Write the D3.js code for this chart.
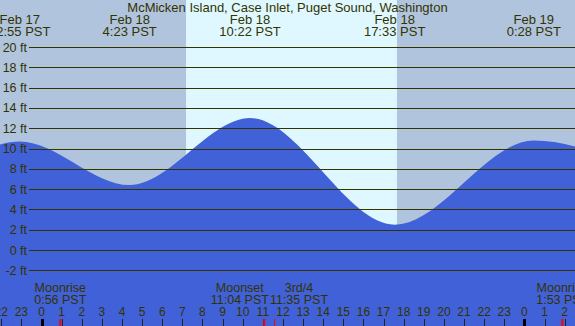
<!DOCTYPE html>
<html>
<head>
<meta charset="utf-8">
<script src="https://cdn.jsdelivr.net/npm/d3@7"></script>
<style>
  body { margin: 0; }
  svg { display: block; }
  text { font-family: "Liberation Sans", Arial, sans-serif; fill: #333300; }
</style>
</head>
<body>
<div id="chart"></div>
<script>
var svgWidth = 575;
var svgHeight = 326;

var title = "McMicken Island, Case Inlet, Puget Sound, Washington";

// tide extremes (first and last are just off the picture)
var tideTimes = ["2025-02-17 16:50", "2025-02-17 22:55", "2025-02-18 04:23", "2025-02-18 10:22",
                 "2025-02-18 17:33", "2025-02-19 00:28", "2025-02-19 06:10"];
var tideHeights = [2.6, 10.7, 6.4, 13.0, 2.5, 10.8, 7.3];

var sunTimes = ["2025-02-18 07:11", "2025-02-18 17:40"];

var moonTimes = ["2025-02-18 00:56", "2025-02-18 11:04", "2025-02-18 11:35", "2025-02-19 01:53"];
var moonNames = ["Moonrise", "Moonset", "3rd/4", "Moonrise"];

var heightTicks = [-2, 0, 2, 4, 6, 8, 10, 12, 14, 16, 18, 20];

var parse = d3.timeParse("%Y-%m-%d %H:%M");
var fmtDay = d3.timeFormat("%b %-d");
var fmtTime = d3.timeFormat("%-H:%M PST");
var fmtHour = d3.timeFormat("%-H");

var tides = tideTimes.map(function(t, i) {
  return { date: parse(t), ft: tideHeights[i] };
});

var svg = d3.select("#chart")
  .append("svg")
  .attr("width", svgWidth)
  .attr("height", svgHeight);

// Scales
// ==============================
var x = d3.scaleTime()
  .domain([parse("2025-02-18 00:00"), parse("2025-02-19 00:00")])
  .range([41.5, 524.4]);

var y = d3.scaleLinear()
  .domain([-2, 20])
  .range([270.3, 47]);

// Night / day background
// ==============================
svg.append("rect")
  .attr("width", svgWidth)
  .attr("height", svgHeight)
  .attr("fill", "#b0c4de");

svg.append("rect")
  .attr("x", x(parse(sunTimes[0])))
  .attr("width", x(parse(sunTimes[1])) - x(parse(sunTimes[0])))
  .attr("height", svgHeight)
  .attr("fill", "#dff8ff");

// Tide fill
// ==============================
var area = d3.area()
  .x(d => x(d.date))
  .y0(svgHeight)
  .y1(d => y(d.ft))
  .curve(d3.curveMonotoneX);

svg.append("path")
  .datum(tides)
  .attr("d", area)
  .attr("fill", "#4161d8");

// Height grid + labels
// ==============================
svg.append("g").selectAll("line")
  .data(heightTicks)
  .enter()
  .append("line")
  .attr("x1", 29)
  .attr("x2", svgWidth)
  .attr("y1", d => Math.round(y(d)) + 0.5)
  .attr("y2", d => Math.round(y(d)) + 0.5)
  .attr("stroke", "#333300")
  .attr("stroke-width", 1);

svg.append("g").selectAll("text")
  .data(heightTicks)
  .enter()
  .append("text")
  .attr("x", 27)
  .attr("y", d => y(d) + 4.5)
  .attr("text-anchor", "end")
  .attr("font-size", "12.5px")
  .text(d => d + " ft");

// Title
svg.append("text")
  .attr("x", svgWidth / 2)
  .attr("y", 12)
  .attr("text-anchor", "middle")
  .attr("font-size", "13px")
  .text(title);

// High / low labels
// ==============================
var extLabels = svg.append("g").selectAll("g")
  .data(tides.slice(1, tides.length - 1))
  .enter()
  .append("g")
  .attr("transform", d => `translate(${x(d.date)},0)`);

extLabels.append("text")
  .attr("y", 24)
  .attr("text-anchor", "middle")
  .attr("font-size", "13px")
  .text(d => fmtDay(d.date));

extLabels.append("text")
  .attr("y", 36)
  .attr("text-anchor", "middle")
  .attr("font-size", "13px")
  .text(d => fmtTime(d.date));

// Hour axis
// ==============================
var hours = d3.timeHour.range(parse("2025-02-17 21:00"), parse("2025-02-19 04:00"));

svg.append("g").selectAll("line")
  .data(hours)
  .enter()
  .append("line")
  .attr("x1", d => Math.round(x(d)) + 0.5)
  .attr("x2", d => Math.round(x(d)) + 0.5)
  .attr("y1", 319)
  .attr("y2", svgHeight)
  .attr("stroke", d => d.getHours() === 0 ? "#000" : "#222")
  .attr("stroke-width", d => d.getHours() === 0 ? 3 : 1);

svg.append("g").selectAll("text")
  .data(hours)
  .enter()
  .append("text")
  .attr("x", d => x(d))
  .attr("y", 316)
  .attr("text-anchor", "middle")
  .attr("font-size", "12px")
  .text(d => fmtHour(d));

// Moon events
// ==============================
var moon = moonTimes.map(function(t, i) {
  return { date: parse(t), name: moonNames[i] };
});

svg.append("g").selectAll("line")
  .data(moon)
  .enter()
  .append("line")
  .attr("x1", d => x(d.date))
  .attr("x2", d => x(d.date))
  .attr("y1", 319)
  .attr("y2", svgHeight)
  .attr("stroke", "red")
  .attr("stroke-width", d => d.name === "3rd/4" ? 1 : 2);

var moonLabels = svg.append("g").selectAll("g")
  .data(moon)
  .enter()
  .append("g");

moonLabels.append("text")
  .attr("y", 292)
  .attr("text-anchor", "middle")
  .attr("font-size", "12.5px")
  .text(d => d.name);

moonLabels.append("text")
  .attr("y", 303.5)
  .attr("text-anchor", "middle")
  .attr("font-size", "12.5px")
  .text(d => fmtTime(d.date));

// push overlapping labels apart
moonLabels.each(function(d) {
  var w = 0;
  d3.select(this).selectAll("text").each(function() {
    w = Math.max(w, this.getComputedTextLength());
  });
  d.w = w;
  d.cx = x(d.date);
});
for (var i = 1; i < moon.length; i++) {
  var a = moon[i - 1], b = moon[i];
  var overlap = (a.cx + a.w / 2 + 1) - (b.cx - b.w / 2);
  if (overlap > 0) {
    a.cx -= overlap / 2;
    b.cx += overlap / 2;
  }
}
moonLabels.attr("transform", d => `translate(${d.cx},0)`);
</script>
</body>
</html>
